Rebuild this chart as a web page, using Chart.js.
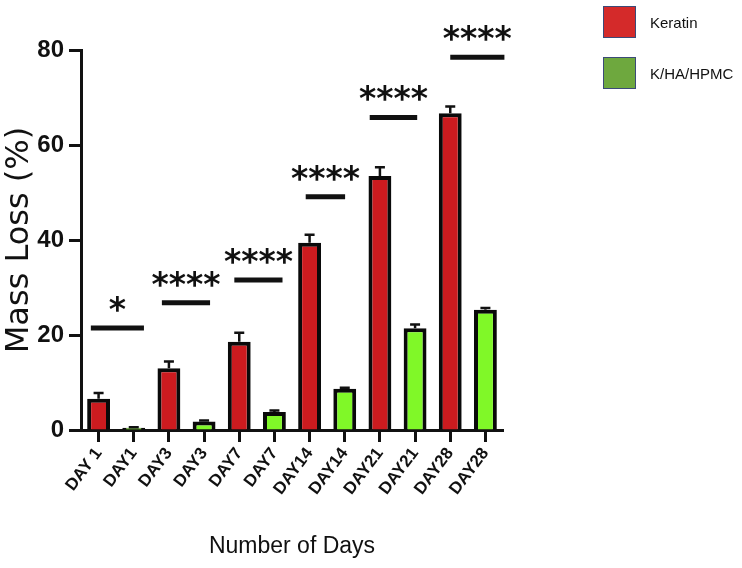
<!DOCTYPE html>
<html>
<head>
<meta charset="utf-8">
<script src="https://cdn.jsdelivr.net/npm/chart.js@4.4.1/dist/chart.umd.min.js"></script>
<style>
  html, body { margin: 0; padding: 0; background: #fff; }
  #wrap { position: relative; width: 742px; height: 568px; }
  #legend {
    position: absolute; left: 603px; top: 6px;
    font-family: "Liberation Sans", sans-serif;
    font-size: 15px; color: #111;
  }
  .item { display: flex; align-items: center; height: 32px; margin-bottom: 19px; }
  .swatch { width: 31px; height: 30px; border: 1px solid #3b4a78; margin-right: 14px; }
</style>
</head>
<body>
<div id="wrap">
  <canvas id="massChart" width="742" height="568"></canvas>
  <div id="legend"></div>
</div>
<script>
const dayLabels = ["DAY 1", "DAY1", "DAY3", "DAY3", "DAY7", "DAY7", "DAY14", "DAY14", "DAY21", "DAY21", "DAY28", "DAY28"];
const seriesNames = ["Keratin", "K/HA/HPMC"];
const barColors = ["#cc1b1f", "#80f828"];
const legendColors = ["#d42a2a", "#6ea83e"];

// mass loss (%) per time point, mean and upper error
const keratinMean = [6.6, 13.0, 18.6, 39.4, 53.5, 66.7];
const keratinErr = [1.2, 1.4, 1.9, 1.7, 1.8, 1.4];
const blendMean = [0.5, 1.8, 3.8, 8.7, 21.4, 25.3];
const blendErr = [0.1, 0.2, 0.3, 0.2, 0.8, 0.4];

// significance brackets (category index span, level in %)
const sigStart = [-0.22, 1.8, 3.86, 5.89, 7.71, 10.0];
const sigEnd = [1.29, 3.17, 5.23, 7.01, 9.06, 11.54];
const sigLevel = [21.5, 26.8, 31.6, 49.1, 65.8, 78.5];
const sigText = ["*", "****", "****", "****", "****", "****"];

const yTicks = [0, 20, 40, 60, 80];

// one bar per category: keratin on even slots, blend on odd slots
const keratinData = dayLabels.map((_, i) => i % 2 === 0 ? keratinMean[i / 2] : null);
const blendData = dayLabels.map((_, i) => i % 2 === 1 ? blendMean[(i - 1) / 2] : null);

const errorBars = {
    id: "errorBars",
    afterDatasetsDraw(chart) {
        const { ctx } = chart;
        const y = chart.scales.y;
        ctx.save();
        ctx.strokeStyle = "#111";
        ctx.lineWidth = 2.5;
        [keratinErr, blendErr].forEach((errs, d) => {
            const meta = chart.getDatasetMeta(d);
            const means = d === 0 ? keratinMean : blendMean;
            errs.forEach((e, k) => {
                const el = meta.data[k * 2 + d];
                if (!el) return;
                const top = y.getPixelForValue(means[k] + e);
                const base = y.getPixelForValue(means[k]);
                ctx.beginPath();
                ctx.moveTo(el.x, base);
                ctx.lineTo(el.x, top);
                ctx.moveTo(el.x - 5, top);
                ctx.lineTo(el.x + 5, top);
                ctx.stroke();
            });
        });
        ctx.restore();
    }
};

const significance = {
    id: "significance",
    afterDatasetsDraw(chart) {
        const { ctx } = chart;
        const x = chart.scales.x;
        const y = chart.scales.y;
        ctx.save();
        ctx.strokeStyle = "#111";
        ctx.fillStyle = "#111";
        ctx.lineWidth = 5;
        ctx.font = "bold 33px 'DejaVu Sans'";
        ctx.textAlign = "center";
        ctx.textBaseline = "alphabetic";
        sigLevel.forEach((lvl, i) => {
            const x0 = x.getPixelForValue(sigStart[i]);
            const x1 = x.getPixelForValue(sigEnd[i]);
            const py = y.getPixelForValue(lvl);
            ctx.beginPath();
            ctx.moveTo(x0, py);
            ctx.lineTo(x1, py);
            ctx.stroke();
            const m = ctx.measureText(sigText[i]);
            const cy = py - 24;
            const baseline = cy + (m.actualBoundingBoxAscent - m.actualBoundingBoxDescent) / 2;
            ctx.fillText(sigText[i], (x0 + x1) / 2, baseline);
        });
        ctx.restore();
    }
};

const chart = new Chart(document.getElementById("massChart"), {
    type: "bar",
    data: {
        labels: dayLabels,
        datasets: [
            { label: seriesNames[0], data: keratinData, backgroundColor: barColors[0], borderColor: "#0a0a0a", borderWidth: 4 },
            { label: seriesNames[1], data: blendData, backgroundColor: barColors[1], borderColor: "#0a0a0a", borderWidth: 4 }
        ]
    },
    options: {
        responsive: false,
        animation: false,
        devicePixelRatio: 1,
        grouped: false,
        skipNull: true,
        barPercentage: 0.65,
        categoryPercentage: 1.0,
        layout: { padding: { left: 0, right: 239, top: 50, bottom: 0 } },
        plugins: {
            legend: { display: false },
            tooltip: { enabled: false }
        },
        scales: {
            x: {
                z: 1,
                afterFit: (s) => { s.height = 138; },
                grid: { offset: false, drawOnChartArea: false, tickLength: 12, tickWidth: 3, tickColor: "#111" },
                border: { color: "#111", width: 3 },
                ticks: {
                    color: "#111",
                    font: { family: "'Liberation Sans'", size: 17, weight: "bold" },
                    minRotation: 53,
                    maxRotation: 53,
                    padding: 2,
                    autoSkip: false
                },
                title: {
                    display: true,
                    text: "Number of Days",
                    color: "#111",
                    font: { family: "'Liberation Sans'", size: 23 },
                    padding: { top: 0, bottom: 8 }
                }
            },
            y: {
                min: 0,
                max: 80,
                afterFit: (s) => { s.width = 81; },
                afterBuildTicks: (s) => { s.ticks = yTicks.map(v => ({ value: v })); },
                grid: { drawOnChartArea: false, tickLength: 12, tickWidth: 3, tickColor: "#111" },
                border: { color: "#111", width: 3 },
                ticks: {
                    color: "#111",
                    font: { family: "'Liberation Sans'", size: 24, weight: "bold" },
                    padding: 5
                },
                title: {
                    display: true,
                    text: "Mass Loss (%)",
                    color: "#111",
                    font: { family: "'DejaVu Sans'", size: 32 },
                    padding: { top: 0, bottom: 0 }
                }
            }
        }
    },
    plugins: [errorBars, significance]
});

const legendEl = document.getElementById("legend");
seriesNames.forEach((name, i) => {
    const item = document.createElement("div");
    item.className = "item";
    const sw = document.createElement("span");
    sw.className = "swatch";
    sw.style.background = legendColors[i];
    const txt = document.createElement("span");
    txt.textContent = name;
    item.appendChild(sw);
    item.appendChild(txt);
    legendEl.appendChild(item);
});
</script>
</body>
</html>
